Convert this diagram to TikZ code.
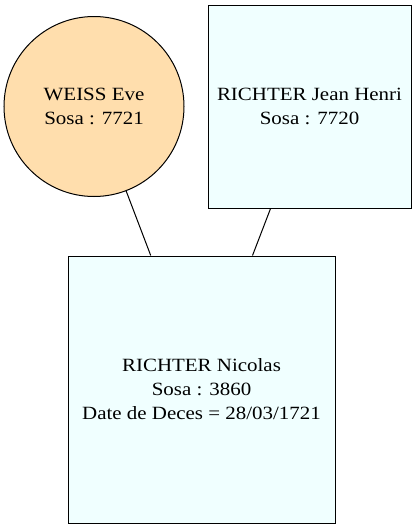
\documentclass[tikz,border=0pt]{standalone}
\usepackage{fontspec}
\setmainfont{Liberation Serif}[FakeStretch=1.12]
\definecolor{navajo}{RGB}{255,222,173}
\definecolor{azurefill}{RGB}{240,255,255}
\begin{document}
\begin{tikzpicture}[x=1pt,y=-1pt,
  person/.style={draw=black, line width=1pt, inner sep=0pt, align=center,
    font=\fontsize{18.7}{24}\selectfont},
  man/.style={person, rectangle, fill=azurefill},
  woman/.style={person, circle, fill=navajo},
  link/.style={draw=black, line width=1pt}]
\useasboundingbox (0,0) rectangle (416,528);
\fill[white] (0,0) rectangle (416,528);
\node[woman, minimum size=180pt] (eve) at (94,106.5) {WEISS Eve\\Sosa : 7721};
\node[man, minimum width=203pt, minimum height=203pt] (jean) at (309.5,106.5) {RICHTER Jean Henri\\Sosa : 7720};
\node[man, minimum width=267pt, minimum height=267pt] (nicolas) at (201.5,389.5) {RICHTER Nicolas\\Sosa : 3860\\Date de Deces = 28/03/1721};
\draw[link] (eve) -- (nicolas);
\draw[link] (jean) -- (nicolas);
\end{tikzpicture}
\end{document}
